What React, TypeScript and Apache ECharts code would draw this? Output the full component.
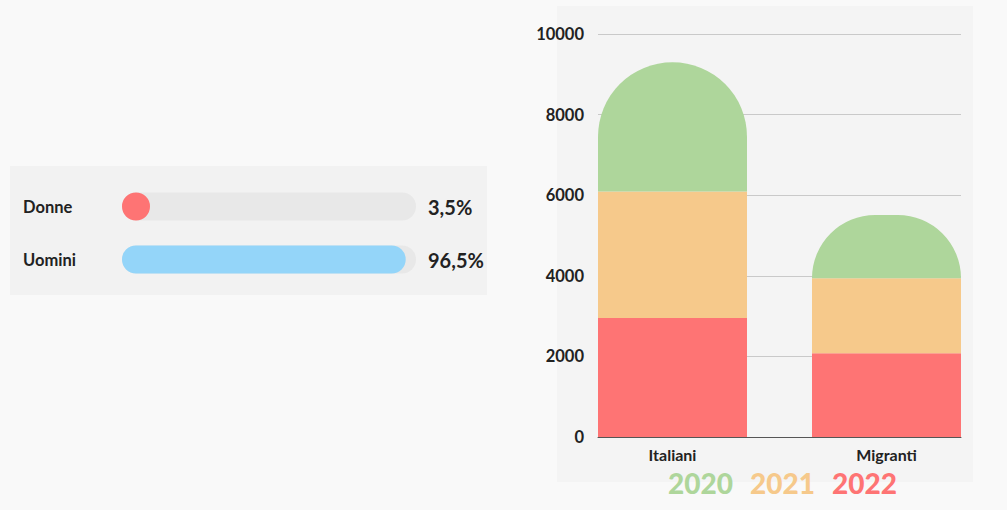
import React, { useEffect, useRef } from "react";
import * as echarts from "echarts";

const categories = ["Italiani", "Migranti"];
const years = ["2020", "2021", "2022"];
const y2022 = [2950, 2080];
const y2021 = [3140, 1860];
const y2020 = [3210, 1570];
const yTicks = { min: 0, max: 10000, interval: 2000 };

const genders = ["Donne", "Uomini"];
const sharePct = [3.5, 96.5];

const C2020 = "#aed69b";
const C2021 = "#f6c98b";
const C2022 = "#fe7474";
const genderColors = ["#fe7474", "#94d5f9"];
const FONT = "Lato";

export default function App() {
  const ref = useRef<HTMLDivElement>(null);
  useEffect(() => {
    document.body.style.margin = "0";
    const chart = echarts.init(ref.current!, null, { renderer: "svg" });
    const fmtPct = (v: number) => v.toFixed(1).replace(".", ",") + "%";
    const option: any = {
      animation: false,
      backgroundColor: "#f9f9f9",
      textStyle: { fontFamily: FONT },
      graphic: [
        { type: "rect", z: -10, shape: { x: 10, y: 166, width: 477, height: 129 }, style: { fill: "#f2f2f2" } },
        { type: "rect", z: -10, shape: { x: 557, y: 6, width: 416, height: 476 }, style: { fill: "#f4f4f4" } },
      ],
      legend: {
        data: years.map((y, i) => ({ name: y, textStyle: { color: [C2020, C2021, C2022][i] } })),
        left: 658,
        top: 464,
        icon: "none",
        itemWidth: 0,
        itemGap: 12,
        textStyle: { fontSize: 28, fontWeight: 900, fontFamily: FONT },
      },
      grid: [
        { left: 598, top: 34, width: 363, height: 403 },
        { left: 672.5, top: 34, width: 214, height: 403 },
        { left: 122, top: 180, width: 294, height: 106 },
      ],
      xAxis: [
        {
          gridIndex: 0, type: "category", data: categories, boundaryGap: true,
          axisLine: { lineStyle: { color: "#555", width: 1 } },
          axisTick: { show: false }, axisLabel: { show: false },
        },
        {
          gridIndex: 1, type: "category", data: categories, boundaryGap: false,
          axisLine: { show: false }, axisTick: { show: false },
          axisLabel: { margin: 9, fontSize: 16, fontWeight: "bold", color: "#222", fontFamily: FONT },
        },
        { gridIndex: 2, type: "value", min: 0, max: 100, show: false },
      ],
      yAxis: [
        {
          gridIndex: 0, type: "value", ...yTicks,
          axisLine: { show: false }, axisTick: { show: false },
          axisLabel: {
            margin: 14, fontSize: 16.5, fontWeight: "bold", color: "#222", fontFamily: FONT,
            formatter: (v: number) => String(v),
          },
          splitLine: { lineStyle: { color: "#c9c9c9", width: 1 } },
        },
        { gridIndex: 1, type: "value", ...yTicks, show: false, splitLine: { show: false } },
        {
          gridIndex: 2, type: "category", data: genders, inverse: true,
          axisLine: { show: false }, axisTick: { show: false },
          axisLabel: { align: "left", margin: 99, fontSize: 16.5, fontWeight: "bold", color: "#222", fontFamily: FONT },
        },
      ],
      series: [
        {
          name: "2022", type: "bar", stack: "t", xAxisIndex: 1, yAxisIndex: 1, data: y2022,
          barWidth: 149, clip: false, itemStyle: { color: C2022 },
        },
        {
          name: "2021", type: "bar", stack: "t", xAxisIndex: 1, yAxisIndex: 1, data: y2021,
          barWidth: 149, clip: false, itemStyle: { color: C2021 },
        },
        {
          name: "2020", type: "bar", stack: "t", xAxisIndex: 1, yAxisIndex: 1, data: y2020,
          barWidth: 149, clip: false, itemStyle: { color: C2020, borderRadius: [75, 75, 0, 0] },
        },
        {
          name: "track", type: "bar", xAxisIndex: 2, yAxisIndex: 2,
          data: genders.map(() => 100), barWidth: 28, z: 1,
          itemStyle: { color: "#e8e8e8", borderRadius: 14 },
          label: {
            show: true, position: "right", distance: 12,
            formatter: (p: any) => fmtPct(sharePct[p.dataIndex]),
            fontSize: 20, fontWeight: "bold", color: "#222", fontFamily: FONT,
          },
          silent: true,
        },
        {
          name: "share", type: "custom", xAxisIndex: 2, yAxisIndex: 2, z: 3,
          data: sharePct.map((v, i) => [v, i]),
          renderItem: (params: any, api: any) => {
            const idx = api.value(1);
            const p0 = api.coord([0, idx]);
            const p1 = api.coord([api.value(0), idx]);
            const h = 28;
            const w = Math.max(p1[0] - p0[0], h);
            return {
              type: "rect",
              shape: { x: p0[0], y: p0[1] - h / 2, width: w, height: h, r: h / 2 },
              style: { fill: genderColors[params.dataIndex] },
            };
          },
        },
      ],
    };
    chart.setOption(option);
    return () => chart.dispose();
  }, []);
  return <div ref={ref} style={{ position: "fixed", left: 0, top: 0, width: 1007, height: 510 }} />;
}
